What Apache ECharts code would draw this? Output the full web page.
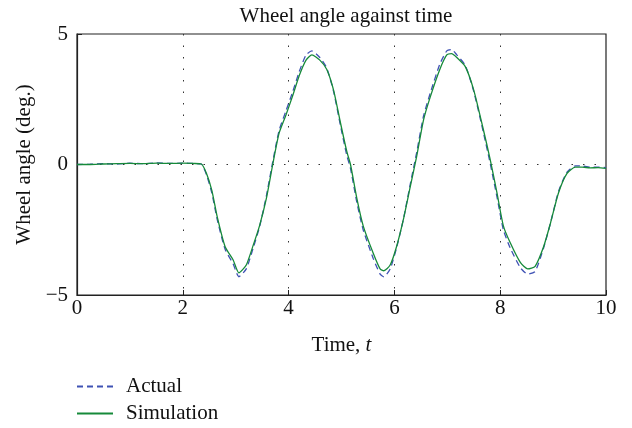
<!DOCTYPE html>
<html>
<head>
<meta charset="utf-8">
<script src="https://cdn.jsdelivr.net/npm/echarts@6/dist/echarts.min.js"></script>
<style>
  html, body { margin: 0; padding: 0; background: #fff; }
  #chart { width: 632px; height: 428px; }
</style>
</head>
<body>
<div id="chart"></div>
<script>
// time samples (s)
var time = [0, 0.25, 0.5, 0.75, 1.0, 1.25, 1.5, 1.75, 2.0, 2.2, 2.35, 2.45, 2.55, 2.65, 2.8, 2.95,
  3.06, 3.2, 3.33, 3.45, 3.58, 3.7, 3.82, 3.95, 4.08, 4.2, 4.33, 4.44, 4.59, 4.72, 4.85, 4.98,
  5.1, 5.17, 5.29, 5.41, 5.6, 5.73, 5.8, 5.92, 6.04, 6.17, 6.3, 6.42, 6.55, 6.68, 6.86, 6.99,
  7.08, 7.18, 7.34, 7.5, 7.68, 7.81, 7.94, 8.06, 8.19, 8.38, 8.52, 8.66, 8.82, 8.95, 9.1, 9.26,
  9.42, 9.55, 9.7, 9.85, 10];

var actual = [0, 0.01, 0.03, 0.02, 0.05, 0.03, 0.06, 0.04, 0.05, 0.04, 0.02, -0.4, -1.1, -2.1, -3.25, -3.8,
  -4.3, -4.0, -3.2, -2.4, -1.2, 0.1, 1.3, 2.05, 2.8, 3.55, 4.2, 4.35, 4.1, 3.7, 2.8, 1.5,
  0.35, -0.15, -1.45, -2.5, -3.6, -4.2, -4.3, -4.0, -3.2, -2.1, -0.75, 0.45, 1.85, 2.75, 3.85, 4.35,
  4.4, 4.2, 3.8, 2.8, 1.25, 0.05, -1.25, -2.5, -3.2, -3.95, -4.2, -4.1, -3.2, -2.25, -1.05, -0.3,
  -0.05, -0.06, -0.1, -0.1, -0.12];

var simulation = [0, 0.0, 0.02, 0.03, 0.04, 0.03, 0.05, 0.04, 0.05, 0.04, 0.02, -0.35, -1.0, -2.0, -3.15, -3.65,
  -4.15, -3.85, -3.1, -2.35, -1.3, 0.0, 1.2, 1.9, 2.65, 3.4, 4.0, 4.2, 4.0, 3.65, 2.85, 1.6,
  0.5, 0.0, -1.3, -2.35, -3.4, -4.0, -4.07, -3.85, -3.15, -2.1, -0.85, 0.3, 1.7, 2.6, 3.65, 4.2,
  4.25, 4.1, 3.75, 2.85, 1.35, 0.2, -1.1, -2.35, -3.0, -3.75, -4.0, -3.9, -3.15, -2.25, -1.1, -0.35,
  -0.1, -0.1, -0.13, -0.12, -0.15];

function pairs(xs, ys) {
  return xs.map(function (x, i) { return [x, ys[i]]; });
}

var serif = 'Liberation Serif';
var fs = 21;
var chart = echarts.init(document.getElementById('chart'), null, { renderer: 'canvas' });

chart.setOption({
  animation: false,
  backgroundColor: '#fff',
  textStyle: { fontFamily: serif },
  title: {
    text: 'Wheel angle against time',
    left: 341,
    top: 1,
    textAlign: 'center',
    textStyle: { fontFamily: serif, fontSize: fs, fontWeight: 'normal', color: '#111' }
  },
  grid: {
    left: 77, right: 26, top: 34, bottom: 133,
    show: true, borderColor: '#222', borderWidth: 1.2, containLabel: false
  },
  legend: {
    orient: 'vertical',
    left: 76,
    top: 376,
    padding: 0,
    itemWidth: 36,
    itemHeight: 14,
    itemGap: 6,
    itemStyle: { opacity: 0 },
    textStyle: { fontFamily: serif, fontSize: fs, color: '#111', padding: [0, 0, 0, 8] },
    data: ['Actual', 'Simulation']
  },
  xAxis: {
    type: 'value',
    min: 0, max: 10, interval: 2,
    name: 'Time, {i|t}',
    nameLocation: 'middle',
    nameGap: 40,
    nameTextStyle: {
      fontFamily: serif, fontSize: fs, color: '#111',
      rich: { i: { fontFamily: serif, fontSize: fs, fontStyle: 'italic', color: '#111' } }
    },
    axisLine: { show: true, onZero: false, lineStyle: { color: '#222', width: 1.2 } },
    axisTick: { show: true, inside: true, length: 5, lineStyle: { color: '#222' } },
    axisLabel: { fontFamily: serif, fontSize: fs, color: '#111', margin: 3 },
    splitLine: {
      show: true, showMinLine: false, showMaxLine: false,
      lineStyle: { color: '#333', type: [1.5, 10], width: 1 }
    }
  },
  yAxis: {
    type: 'value',
    min: -5, max: 5, interval: 5,
    name: 'Wheel angle (deg.)',
    nameLocation: 'middle',
    nameGap: 40,
    nameTextStyle: { fontFamily: serif, fontSize: fs, color: '#111' },
    axisLine: { show: true, onZero: false, lineStyle: { color: '#222', width: 1.2 } },
    axisTick: { show: true, inside: true, length: 5, lineStyle: { color: '#222' } },
    axisLabel: {
      fontFamily: serif, fontSize: fs, color: '#111', margin: 9,
      formatter: function (v) { return v < 0 ? '\u2212' + Math.abs(v) : String(v); }
    },
    splitLine: {
      show: true, showMinLine: false, showMaxLine: false,
      lineStyle: { color: '#333', type: [1.5, 10], width: 1 }
    }
  },
  series: [
    {
      name: 'Actual',
      type: 'line',
      data: pairs(time, actual),
      symbol: 'none',
      smooth: 0.2,
      lineStyle: { color: '#3f52b4', width: 1.3, type: [6, 4] },
      itemStyle: { color: '#3f52b4' },
      z: 2
    },
    {
      name: 'Simulation',
      type: 'line',
      data: pairs(time, simulation),
      symbol: 'none',
      smooth: 0.2,
      lineStyle: { color: '#168a3a', width: 1.3 },
      itemStyle: { color: '#168a3a' },
      z: 3
    }
  ]
});
</script>
</body>
</html>
